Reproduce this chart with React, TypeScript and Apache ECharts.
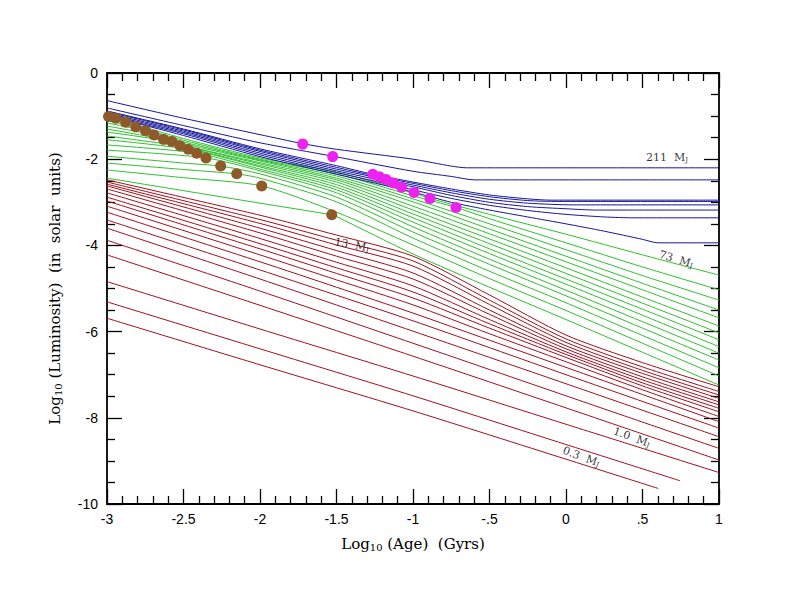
import React, { useEffect, useRef } from "react";
import * as echarts from "echarts";

// ---- Stars (blue) : [log age, log L]
const B211 = [[-3,-0.64],[-2.5,-1.05],[-2,-1.43],[-1.72,-1.64],[-1.5,-1.77],[-1,-2.0],[-0.75,-2.16],[-0.65,-2.2],[1,-2.2]];
const B150 = [[-3,-0.81],[-2.5,-1.22],[-2,-1.62],[-1.525,-1.93],[-1,-2.28],[-0.75,-2.40],[-0.6,-2.48],[1,-2.48]];
const B100 = [[-3,-0.88],[-2.5,-1.30],[-2,-1.76],[-1.5,-2.15],[-1.263,-2.35],[-1,-2.53],[-0.75,-2.69],[-0.5,-2.83],[-0.25,-2.92],[-0.1,-2.95],[1,-2.95]];
const B90 = [[-3,-0.90],[-2.5,-1.32],[-2,-1.79],[-1.5,-2.19],[-1.22,-2.41],[-1,-2.56],[-0.75,-2.73],[-0.5,-2.87],[-0.25,-2.96],[-0.05,-2.98],[1,-2.98]];
const B85 = [[-3,-0.93],[-2.5,-1.35],[-2,-1.82],[-1.5,-2.23],[-1.176,-2.47],[-1,-2.60],[-0.75,-2.78],[-0.5,-2.93],[-0.25,-3.02],[0.05,-3.06],[1,-3.06]];
const B80 = [[-3,-0.96],[-2.5,-1.38],[-2,-1.86],[-1.5,-2.27],[-1.129,-2.55],[-1,-2.64],[-0.75,-2.84],[-0.5,-3.0],[-0.25,-3.1],[0,-3.15],[0.2,-3.18],[1,-3.18]];
const B78 = [[-3,-0.99],[-2.5,-1.41],[-2,-1.90],[-1.5,-2.31],[-1.074,-2.65],[-0.75,-2.91],[-0.5,-3.07],[-0.25,-3.19],[0,-3.28],[0.25,-3.34],[0.45,-3.36],[1,-3.36]];
const B73 = [[-3,-1.03],[-2.94,-1.05],[-2.5,-1.45],[-2,-1.94],[-1.5,-2.35],[-0.993,-2.77],[-0.75,-3.0],[-0.5,-3.18],[-0.25,-3.34],[0,-3.5],[0.25,-3.67],[0.5,-3.86],[0.6,-3.94],[1,-3.94]];

// ---- Brown dwarfs (green)
const G70 = [[-3,-1.07],[-2.878,-1.14],[-2.5,-1.52],[-2,-1.97],[-1.5,-2.30],[-1,-2.78],[-0.889,-2.91],[-0.5,-3.28],[0,-3.74],[0.5,-4.22],[1,-4.69]];
const G65 = [[-3,-1.11],[-2.812,-1.25],[-2.5,-1.56],[-2,-2.0],[-1.5,-2.34],[-1,-2.85],[-0.719,-3.12],[-0.5,-3.38],[0,-3.94],[0.5,-4.5],[1,-5.03]];
const G60 = [[-3,-1.16],[-2.748,-1.34],[-2.5,-1.60],[-2,-2.02],[-1.5,-2.39],[-1,-2.92],[-0.5,-3.50],[0,-4.10],[0.5,-4.70],[1,-5.27]];
const G55 = [[-3,-1.23],[-2.693,-1.44],[-2.5,-1.64],[-2,-2.04],[-1.5,-2.44],[-1,-2.99],[-0.5,-3.62],[0,-4.25],[0.5,-4.88],[1,-5.50]];
const G50 = [[-3,-1.30],[-2.631,-1.54],[-2.5,-1.68],[-2,-2.08],[-1.5,-2.48],[-1,-3.09],[-0.5,-3.73],[0,-4.38],[0.5,-5.03],[1,-5.68]];
const G45 = [[-3,-1.37],[-2.575,-1.59],[-2.5,-1.68],[-2,-2.11],[-1.5,-2.53],[-1,-3.18],[-0.5,-3.85],[0,-4.52],[0.5,-5.2],[1,-5.87]];
const G40 = [[-3,-1.46],[-2.523,-1.69],[-2.5,-1.71],[-2,-2.15],[-1.5,-2.59],[-1,-3.27],[-0.5,-3.96],[0,-4.65],[0.5,-5.34],[1,-6.03]];
const G35 = [[-3,-1.55],[-2.469,-1.77],[-2,-2.18],[-1.5,-2.65],[-1,-3.36],[-0.5,-4.08],[0,-4.78],[0.5,-5.48],[1,-6.19]];
const G30 = [[-3,-1.67],[-2.414,-1.86],[-2,-2.23],[-1.5,-2.71],[-1,-3.46],[-0.5,-4.19],[0,-4.90],[0.5,-5.62],[1,-6.35]];
const G25 = [[-3,-1.79],[-2.353,-1.97],[-2,-2.27],[-1.5,-2.78],[-1,-3.57],[-0.5,-4.32],[0,-5.04],[0.5,-5.77],[1,-6.50]];
const G20 = [[-3,-1.93],[-2.5,-2.09],[-2.257,-2.16],[-2,-2.34],[-1.5,-2.88],[-1,-3.69],[-0.5,-4.44],[0,-5.17],[0.5,-5.92],[1,-6.66]];
const G17 = [[-3,-2.09],[-2.5,-2.24],[-2.152,-2.34],[-2,-2.44],[-1.5,-2.99],[-1,-3.83],[-0.5,-4.60],[0,-5.33],[0.5,-6.09],[1,-6.84]];
const G15 = [[-3,-2.25],[-2.5,-2.43],[-1.989,-2.62],[-1.5,-3.23],[-1,-3.99],[-0.5,-4.77],[0,-5.51],[0.5,-6.27],[1,-7.03]];
const G13 = [[-3,-2.44],[-2.5,-2.73],[-2,-3.02],[-1.531,-3.29],[-1.5,-3.33],[-1,-4.20],[-0.5,-4.97],[0,-5.72],[0.5,-6.48],[1,-7.24]];

// ---- Planets (red)
const R13b = [[-3,-2.48],[-2,-3.30],[-1.5,-3.76],[-1,-4.25],[-0.5,-5.15],[0,-6.08],[0.5,-6.72],[1,-7.28]];
const R13a = [[-3,-2.53],[-2,-3.40],[-1.5,-3.88],[-1,-4.36],[-0.5,-5.27],[0,-6.17],[0.5,-6.82],[1,-7.39]];
const R125 = [[-3,-2.58],[-2,-3.49],[-1.5,-3.99],[-1,-4.48],[-0.5,-5.37],[0,-6.25],[0.5,-6.90],[1,-7.47]];
const R12 = [[-3,-2.62],[-2,-3.60],[-1.5,-4.12],[-1,-4.64],[-0.5,-5.50],[0,-6.33],[0.5,-6.97],[1,-7.55]];
const R11 = [[-3,-2.69],[-2,-3.71],[-1.5,-4.25],[-1,-4.78],[-0.5,-5.60],[0,-6.40],[0.5,-7.05],[1,-7.63]];
const R10 = [[-3,-2.78],[-2,-3.84],[-1.5,-4.39],[-1,-4.94],[-0.5,-5.72],[0,-6.47],[0.5,-7.12],[1,-7.70]];
const R9 = [[-3,-2.88],[-2,-3.96],[-1.5,-4.52],[-1,-5.08],[-0.5,-5.82],[0,-6.53],[0.5,-7.19],[1,-7.78]];
const R8 = [[-3,-2.97],[-2,-4.08],[-1.5,-4.65],[-1,-5.22],[-0.5,-5.92],[0,-6.60],[0.5,-7.26],[1,-7.86]];
const R7 = [[-3,-3.09],[-2,-4.22],[-1.5,-4.80],[-1,-5.38],[-0.5,-6.05],[0,-6.70],[0.5,-7.35],[1,-7.97]];
const R6 = [[-3,-3.23],[-2,-4.38],[-1.5,-4.97],[-1,-5.57],[-0.5,-6.20],[0,-6.83],[0.5,-7.46],[1,-8.09]];
const R5 = [[-3,-3.41],[-2,-4.57],[-1,-5.75],[0,-7.00],[1,-8.24]];
const R4 = [[-3,-3.60],[-2,-4.78],[-1,-5.99],[0,-7.21],[1,-8.44]];
const R3 = [[-3,-3.88],[-2,-5.06],[-1,-6.27],[0,-7.49],[1,-8.71]];
const R2 = [[-3,-4.22],[-2,-5.39],[-1,-6.57],[0,-7.77],[1,-8.98]];
const R1 = [[-3,-4.84],[-2,-5.94],[-1,-7.03],[0,-8.15],[1,-9.27]];
const R05 = [[-3,-5.31],[-2,-6.40],[-1,-7.49],[0,-8.62],[0.745,-9.46]];
const R03 = [[-3,-5.69],[-2,-6.77],[-1,-7.84],[0,-8.96],[0.603,-9.64]];

// ---- 50% deuterium burned (brown) and 50% lithium burned (magenta)
const DEUTERIUM = [[-2.99,-1.01],[-2.943,-1.05],[-2.878,-1.14],[-2.812,-1.25],[-2.748,-1.34],[-2.693,-1.44],[-2.631,-1.54],[-2.575,-1.59],[-2.523,-1.69],[-2.469,-1.77],[-2.414,-1.86],[-2.353,-1.97],[-2.257,-2.16],[-2.152,-2.34],[-1.989,-2.62],[-1.531,-3.29]];
const LITHIUM = [[-1.721,-1.65],[-1.525,-1.94],[-1.263,-2.35],[-1.22,-2.41],[-1.176,-2.47],[-1.129,-2.55],[-1.074,-2.65],[-0.993,-2.77],[-0.889,-2.91],[-0.719,-3.12]];

// ---- Mass labels
const LABEL_TEXT = ["211", "73", "13", "1.0", "0.3"];
const LABEL_POS = [[0.66,-1.97],[0.72,-4.32],[-1.40,-3.99],[0.43,-8.45],[0.10,-8.90]];
const LABEL_ROT = [0, -17, -10, -20, -20];

const X_TICK_TEXT: Record<string, string> = { "-3": "-3", "-2.5": "-2.5", "-2": "-2", "-1.5": "-1.5", "-1": "-1", "-0.5": "-.5", "0": "0", "0.5": ".5", "1": "1" };

const BLUE = [B211, B150, B100, B90, B85, B80, B78, B73];
const GREEN = [G70, G65, G60, G55, G50, G45, G40, G35, G30, G25, G20, G17, G15, G13];
const RED = [R13b, R13a, R125, R12, R11, R10, R9, R8, R7, R6, R5, R4, R3, R2, R1, R05, R03];

export default function App() {
  const ref = useRef<HTMLDivElement>(null);
  useEffect(() => {
    if (!ref.current) return;
    const chart = echarts.init(ref.current, null, { renderer: "svg" });
    const lineSeries = (data: number[][], color: string) => ({
      type: "line",
      data,
      showSymbol: false,
      symbol: "none",
      smooth: 0.25,
      lineStyle: { color, width: 1 },
      silent: true,
      z: 2,
    });
    const tickLbl = { fontFamily: "Liberation Sans", fontSize: 14, color: "#000" };
    const axisLine = { show: true, onZero: false, lineStyle: { color: "#000", width: 1.8 } };
    const tick = { show: true, inside: true, length: 15, lineStyle: { color: "#000", width: 1.3 } };
    const minor = (n: number) => ({ show: true, splitNumber: n, length: 8, lineStyle: { color: "#000", width: 1.3 } });
    const titleRich = {
      t: { fontFamily: "DejaVu Serif", fontSize: 15, color: "#000" },
      s: { fontFamily: "DejaVu Serif", fontSize: 10, color: "#000", verticalAlign: "bottom", padding: [6, 0, 0, 0] },
    };
    const option: any = {
      animation: false,
      backgroundColor: "#fff",
      grid: { left: 107, right: 73, top: 73, bottom: 108 },
      xAxis: [
        {
          type: "value", min: -3, max: 1, interval: 0.5, position: "bottom",
          axisLine, axisTick: tick, minorTick: minor(5),
          splitLine: { show: false },
          axisLabel: { ...tickLbl, margin: 8, formatter: (v: number) => X_TICK_TEXT[String(v)] ?? String(v) },
          name: "{t|Log}{s|10}{t| (Age)  (Gyrs)}", nameLocation: "middle", nameGap: 32,
          nameTextStyle: { rich: titleRich },
        },
        {
          type: "value", min: -3, max: 1, interval: 0.5, position: "top",
          axisLine, axisTick: tick, minorTick: minor(5),
          splitLine: { show: false }, axisLabel: { show: false },
        },
      ],
      yAxis: [
        {
          type: "value", min: -10, max: 0, interval: 2, position: "left",
          axisLine, axisTick: tick, minorTick: minor(4),
          splitLine: { show: false },
          axisLabel: { ...tickLbl, margin: 9 },
          name: "{t|Log}{s|10}{t| (Luminosity)  (in  solar  units)}", nameLocation: "middle", nameGap: 44,
          nameRotate: 90,
          nameTextStyle: { rich: titleRich },
        },
        {
          type: "value", min: -10, max: 0, interval: 2, position: "right",
          axisLine, axisTick: tick, minorTick: minor(4),
          splitLine: { show: false }, axisLabel: { show: false },
        },
      ],
      series: [
        ...RED.map((d) => lineSeries(d, "#a0101c")),
        ...GREEN.map((d) => lineSeries(d, "#2fbf2f")),
        ...BLUE.map((d) => lineSeries(d, "#16169a")),
        {
          type: "scatter", data: DEUTERIUM, symbolSize: 11, z: 5,
          itemStyle: { color: "#8f5a2a", opacity: 1 }, silent: true,
        },
        {
          type: "scatter", data: LITHIUM, symbolSize: 11, z: 5,
          itemStyle: { color: "#ee22ee", opacity: 1 }, silent: true,
        },
        {
          type: "scatter", symbolSize: 1, z: 6, silent: true,
          itemStyle: { color: "rgba(0,0,0,0)" },
          data: LABEL_POS.map((p, i) => ({
            value: p,
            label: {
              show: true, position: "inside", rotate: LABEL_ROT[i],
              formatter: `{n|${LABEL_TEXT[i]}  M}{j|J}`,
              rich: {
                n: { fontFamily: "DejaVu Serif", fontSize: 11, color: "#000" },
                j: { fontFamily: "DejaVu Serif", fontSize: 7, color: "#000", verticalAlign: "bottom", padding: [5, 0, 0, 0] },
              },
            },
          })),
        },
      ],
    };
    chart.setOption(option);
    return () => chart.dispose();
  }, []);
  return (
    <div
      ref={ref}
      style={{ position: "fixed", left: 0, top: 0, width: 792, height: 612, background: "#fff" }}
    />
  );
}
